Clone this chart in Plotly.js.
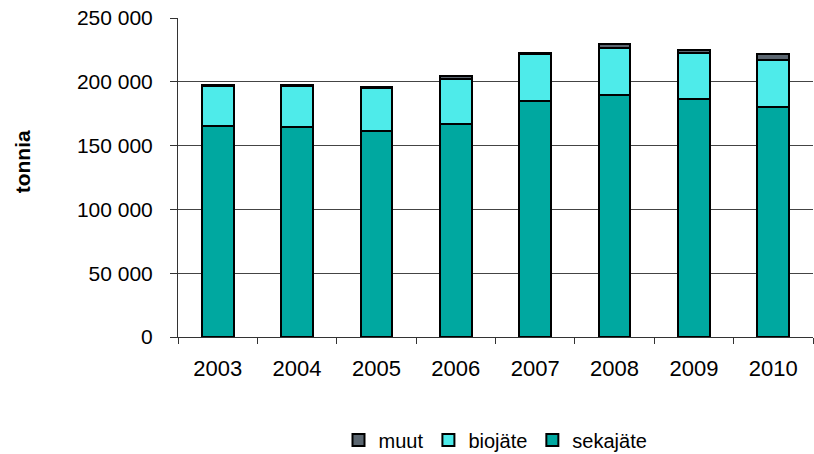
<!DOCTYPE html>
<html>
<head>
<meta charset="utf-8">
<script src="https://cdn.plot.ly/plotly-3.0.1.min.js"></script>
<style>html,body{margin:0;padding:0;background:#fff;}#chart{width:814px;height:454px;}</style>
</head>
<body>
<div id="chart"></div>
<script>
const years = ['2003','2004','2005','2006','2007','2008','2009','2010'];
const sekajate = [165200, 164400, 161500, 166700, 185300, 189800, 186400, 180600];
const biojate = [31600, 32400, 33600, 35400, 36200, 36600, 35900, 36200];
const muut = [600, 600, 500, 2100, 1000, 3400, 2800, 4700];
const yTickVals = [0, 50000, 100000, 150000, 200000, 250000];
const yTickText = ['0', '50 000', '100 000', '150 000', '200 000', '250 000'];

const FONT = 'Liberation Sans, Arial, sans-serif';
const line = {color: '#000', width: 2};
const traces = [
  {type: 'bar', name: 'sekajäte', x: years, y: sekajate, marker: {color: '#00A8A0', line: line}},
  {type: 'bar', name: 'biojäte', x: years, y: biojate, marker: {color: '#4EEBEA', line: line}},
  {type: 'bar', name: 'muut', x: years, y: muut, marker: {color: '#5B6670', line: line}}
];

const layout = {
  width: 814, height: 454,
  margin: {l: 178, r: 1, t: 18, b: 117, autoexpand: false},
  barmode: 'stack',
  bargap: 0.6,
  paper_bgcolor: '#fff', plot_bgcolor: '#fff',
  font: {family: FONT, color: '#000'},
  showlegend: true,
  legend: {
    orientation: 'h', traceorder: 'reversed',
    x: 0.5, xanchor: 'center', y: -0.323, yanchor: 'middle',
    font: {size: 20, family: FONT, color: '#000'},
    itemwidth: 30
  },
  xaxis: {
    type: 'category',
    showline: true, linecolor: '#333', linewidth: 1,
    ticks: 'outside', tickson: 'boundaries', ticklen: 6, tickcolor: '#333',
    tickfont: {size: 22, family: FONT, color: '#000'},
    ticklabelstandoff: 12,
    showgrid: false, zeroline: false, fixedrange: true
  },
  yaxis: {
    range: [0, 250000],
    tickvals: yTickVals, ticktext: yTickText,
    showline: true, linecolor: '#333', linewidth: 1,
    ticks: 'outside', ticklen: 7, tickcolor: '#333',
    tickfont: {size: 21, family: FONT, color: '#000'},
    ticklabelstandoff: 13,
    showgrid: true, gridcolor: '#444', gridwidth: 1,
    zeroline: false, fixedrange: true
  },
  annotations: [{
    text: '<b>tonnia</b>', textangle: -90,
    xref: 'paper', yref: 'paper',
    x: -0.245, y: 0.549, xanchor: 'center', yanchor: 'middle',
    showarrow: false,
    font: {size: 21, family: FONT, color: '#000'}
  }]
};

Plotly.newPlot('chart', traces, layout, {displayModeBar: false, staticPlot: true});
</script>
</body>
</html>
